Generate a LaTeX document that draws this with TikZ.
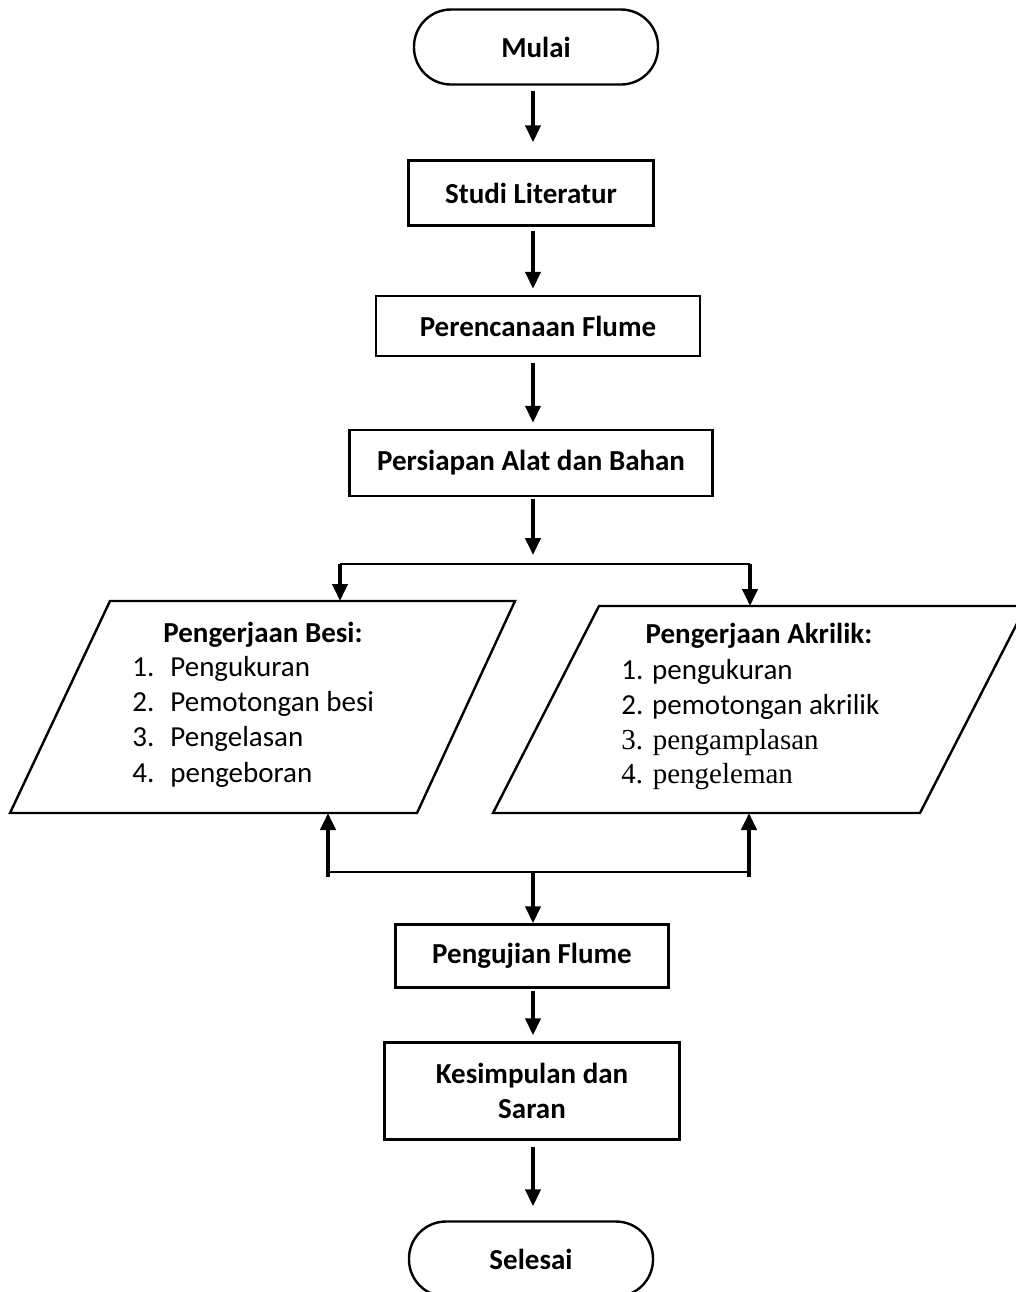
\documentclass[tikz,border=0pt]{standalone}
\usepackage{fontspec}
\setmainfont{Carlito}
\newfontfamily\timesfont{Liberation Serif}
\usetikzlibrary{arrows.meta}
\tikzset{
	proses/.style={draw,line width=1.2pt,font=\fontsize{14.5}{17.75}\selectfont\bfseries},
	terminal/.style={proses,rounded corners=18.5pt,minimum width=122pt,minimum height=37.5pt},
	panah/.style={line width=2pt,-{Triangle[width=7.5pt,length=8.5pt]}},
	garis/.style={line width=1.3pt}
}
\begin{document}
\begin{tikzpicture}[x=0.5pt,y=-0.5pt,font=\fontsize{14.5}{17.75}\selectfont]
			\useasboundingbox (0,0) rectangle (1016,1292);
			\node[terminal] (mulai) at (536,47) {Mulai};
			\node[proses,minimum width=122.5pt,minimum height=32.5pt] (studi) at (531,193) {Studi Literatur};
			\node[proses,minimum width=162pt,minimum height=30pt] (rencana) at (538,326) {Perencanaan Flume};
			\node[proses,minimum width=181.5pt,minimum height=33pt] (siap) at (531,463) {Persiapan Alat dan Bahan};
			\node[proses,minimum width=136.5pt,minimum height=31.5pt] (uji) at (532,956) {Pengujian Flume};
			\node[proses,minimum width=147.5pt,minimum height=48.5pt,align=center] (simpul) at (532,1091) {Kesimpulan dan\\Saran};
			\node[terminal] (selesai) at (531,1259) {Selesai};
			% jajaran genjang
			\coordinate (B1) at (110,601); \coordinate (B2) at (515,601);
			\coordinate (B3) at (417,813); \coordinate (B4) at (10,813);
			\coordinate (A1) at (599,606); \coordinate (A2) at (1026,606);
			\coordinate (A3) at (920,813); \coordinate (A4) at (493,813);
			\draw[line width=1.2pt] (B1)--(B2)--(B3)--(B4)--cycle;
			\draw[line width=1.2pt] (A1)--(A2)--(A3)--(A4)--cycle;
			\node[anchor=base,font=\fontsize{14.5}{17.75}\selectfont\bfseries] (besi) at (263,642) {Pengerjaan Besi:};
			\node[anchor=base,font=\fontsize{14.5}{17.75}\selectfont\bfseries] (akrilik) at (759,643) {Pengerjaan Akrilik:};
			\foreach \n/\t/\y in {1/Pengukuran/676,2/Pemotongan besi/711,3/Pengelasan/746,4/pengeboran/782}{
				\node[anchor=base west,inner sep=0pt] at (132,\y) {\n.};
				\node[anchor=base west,inner sep=0pt] at (170,\y) {\t};
			}
			\foreach \t/\y in {1. pengukuran/679,2. pemotongan akrilik/714}
				\node[anchor=base west,inner sep=0pt] at (621,\y) {\t};
			\foreach \t/\y in {3. pengamplasan/749,4. pengeleman/783}
				\node[anchor=base west,inner sep=0pt,font=\fontsize{14.5}{17.75}\timesfont] at (621,\y) {\t};
			% percabangan
			\coordinate (pisah) at (533,564);
			\coordinate (pisahB) at (340,564);
			\coordinate (pisahA) at (750,564);
			\coordinate (gabung) at (533,872);
			\coordinate (gabungB) at (328,877);
			\coordinate (gabungA) at (749,877);
			% panah
			\draw[panah,shorten <=2.5pt,shorten >=8.5pt] (mulai.south-|pisah) -- (studi.north-|pisah);
			\draw[panah,shorten <=2pt,shorten >=3pt] (studi.south-|pisah) -- (rencana.north-|pisah);
			\draw[panah,shorten <=3pt,shorten >=3pt] (rencana.south-|pisah) -- (siap.north-|pisah);
			\draw[panah,shorten <=1pt,shorten >=4.5pt] (siap.south-|pisah) -- (pisah);
			\draw[garis] (pisahB) -- (pisahA);
			\draw[panah] (pisahB) -- (pisahB|-B1);
			\draw[panah] (pisahA) -- (pisahA|-A1);
			\draw[panah] (gabungB) -- (gabungB|-B4);
			\draw[panah] (gabungA) -- (gabungA|-A4);
			\draw[garis] (gabungB|-gabung) -- (gabungA|-gabung);
			\draw[panah] (gabung) -- (uji.north-|gabung);
			\draw[panah,shorten <=1pt,shorten >=3pt] (uji.south-|gabung) -- (simpul.north-|gabung);
			\draw[panah,shorten <=3pt,shorten >=7pt] (simpul.south-|gabung) -- (selesai.north-|gabung);
		\end{tikzpicture}
\end{document}
